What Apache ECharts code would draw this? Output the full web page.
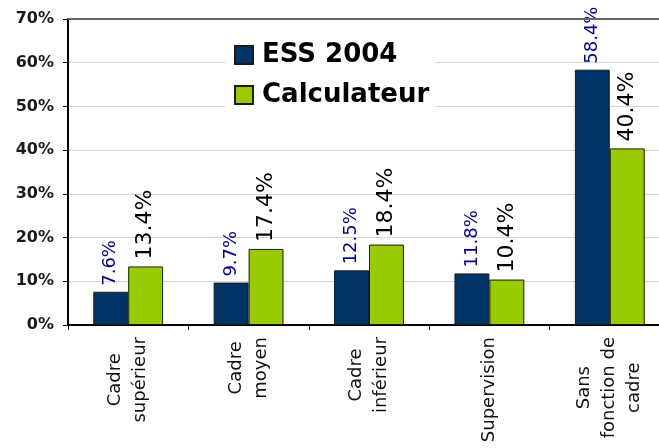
<!DOCTYPE html>
<html>
<head>
<meta charset="utf-8">
<script src="https://cdn.jsdelivr.net/npm/echarts@6/dist/echarts.min.js"></script>
<style>
  html, body { margin: 0; padding: 0; background: #fff; }
  #chart { width: 659px; height: 448px; }
</style>
</head>
<body>
<div id="chart"></div>
<script>
const categories = ['Cadre\nsupérieur', 'Cadre\nmoyen', 'Cadre\ninférieur', 'Supervision', 'Sans\nfonction de\ncadre']
const ess2004 = [7.6, 9.7, 12.5, 11.8, 58.4]
const calculateur = [13.4, 17.4, 18.4, 10.4, 40.4]
const yTicks = [0, 10, 20, 30, 40, 50, 60, 70]

const pct = (p) => p.value.toFixed(1) + '%'

const chart = echarts.init(document.getElementById('chart'))

chart.setOption({
  animation: false,
  grid: {
    left: 68,
    top: 19,
    width: 602,
    height: 306,
    containLabel: false,
    outerBoundsMode: 'none'
  },
  legend: {
    orient: 'vertical',
    left: 225,
    top: 30,
    padding: [12, 6, 8, 9],
    backgroundColor: '#fff',
    icon: 'rect',
    itemWidth: 18,
    itemHeight: 18,
    itemGap: 14,
    textStyle: {
      fontFamily: 'DejaVu Sans',
      fontWeight: 'bold',
      fontSize: 26,
      lineHeight: 25,
      color: '#000',
      padding: [0, 0, 0, 4]
    }
  },
  xAxis: {
    type: 'category',
    data: categories,
    axisLine: { lineStyle: { color: '#000', width: 2 } },
    axisTick: { show: true, length: 5, lineStyle: { color: '#000', width: 1 } },
    axisLabel: {
      interval: 0,
      rotate: 90,
      margin: 12,
      formatter: (v) => v.split('\n').map(s => '{c|' + s + '}').join('\n'),
      rich: {
        c: {
          align: 'center',
          fontFamily: 'DejaVu Sans',
          fontSize: 18,
          lineHeight: 25,
          color: '#111'
        }
      }
    }
  },
  yAxis: {
    type: 'value',
    min: yTicks[0],
    max: yTicks[yTicks.length - 1],
    interval: 10,
    axisLine: { show: true, lineStyle: { color: '#000', width: 2 } },
    axisTick: { show: true, length: 5, lineStyle: { color: '#000' } },
    axisLabel: {
      margin: 14,
      formatter: '{value}%',
      fontFamily: 'DejaVu Sans',
      fontWeight: 'bold',
      fontSize: 16,
      color: '#1a1a1a'
    },
    splitLine: { lineStyle: { color: '#d4d4d4', width: 1 } }
  },
  series: [
    {
      name: 'ESS 2004',
      type: 'bar',
      data: ess2004,
      barGap: '0%',
      barCategoryGap: '42%',
      itemStyle: { color: '#003366', borderColor: '#1a1a1a', borderWidth: 1 },
      label: {
        show: true,
        position: 'top',
        rotate: 90,
        align: 'left',
        verticalAlign: 'middle',
        distance: 6,
        formatter: pct,
        fontFamily: 'DejaVu Sans',
        fontSize: 18,
        color: '#000099'
      },
      markLine: {
        silent: true,
        symbol: 'none',
        label: { show: false },
        lineStyle: { color: '#666', width: 2, type: 'solid' },
        data: [{ yAxis: yTicks[yTicks.length - 1] }]
      }
    },
    {
      name: 'Calculateur',
      type: 'bar',
      data: calculateur,
      itemStyle: { color: '#99cc00', borderColor: '#1a1a1a', borderWidth: 1 },
      label: {
        show: true,
        position: 'top',
        rotate: 90,
        align: 'left',
        verticalAlign: 'middle',
        distance: 7,
        formatter: pct,
        fontFamily: 'DejaVu Sans',
        fontSize: 22,
        color: '#000'
      }
    }
  ]
})
</script>
</body>
</html>
